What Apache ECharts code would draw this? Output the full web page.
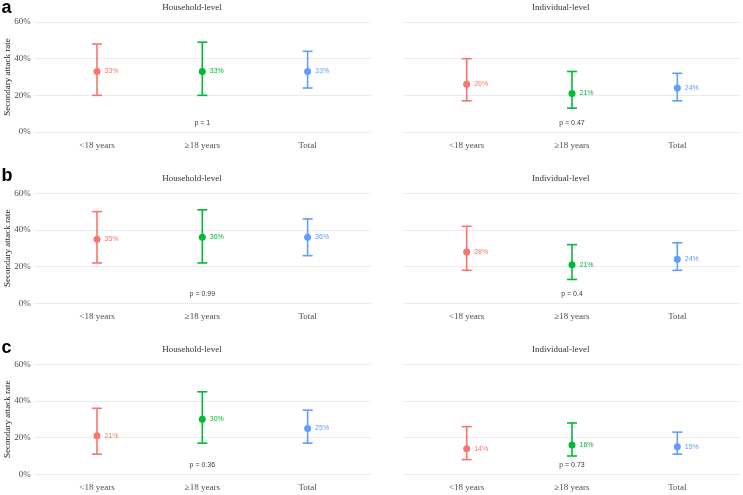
<!DOCTYPE html>
<html>
<head>
<meta charset="utf-8">
<script src="https://cdn.jsdelivr.net/npm/echarts@6/dist/echarts.min.js"></script>
<style>
html,body{margin:0;padding:0;background:#fff;}
#chart{width:743px;height:495px;}
</style>
</head>
<body>
<div id="chart"></div>
<script>
// ---- data ----
const categories = ['<18 years', '\u226518 years', 'Total'];
const panelTitles = ['Household-level', 'Individual-level'];
const rowLabels = ['a', 'b', 'c'];
const yTickValues = [0, 20, 40, 60];
const yAxisTitle = 'Secondary attack rate';
const groupColors = ['#F8766D', '#00BA38', '#619CFF'];

// row a
const aHouseRate = [33, 33, 33];
const aHouseLow  = [20, 20, 24];
const aHouseHigh = [48, 49, 44];
const aIndRate   = [26, 21, 24];
const aIndLow    = [17, 13, 17];
const aIndHigh   = [40, 33, 32];
// row b
const bHouseRate = [35, 36, 36];
const bHouseLow  = [22, 22, 26];
const bHouseHigh = [50, 51, 46];
const bIndRate   = [28, 21, 24];
const bIndLow    = [18, 13, 18];
const bIndHigh   = [42, 32, 33];
// row c
const cHouseRate = [21, 30, 25];
const cHouseLow  = [11, 17, 17];
const cHouseHigh = [36, 45, 35];
const cIndRate   = [14, 16, 15];
const cIndLow    = [8, 10, 11];
const cIndHigh   = [26, 28, 23];

const pValues = ['1', '0.47', '0.99', '0.4', '0.36', '0.73'];
const pLabelY = 5;

const panels = [
  [aHouseRate, aHouseLow, aHouseHigh],
  [aIndRate, aIndLow, aIndHigh],
  [bHouseRate, bHouseLow, bHouseHigh],
  [bIndRate, bIndLow, bIndHigh],
  [cHouseRate, cHouseLow, cHouseHigh],
  [cIndRate, cIndLow, cIndHigh]
];

// ---- layout ----
const gridLefts = [33.8, 403.5];
const gridWidth = 337;
const gridTops = [22, 193.3, 364.3];
const gridHeight = 110;
const rowLabelBaselines = [17, 185, 357];

const serif = '"Liberation Serif", "Times New Roman", serif';
const sans = '"Liberation Sans", Arial, sans-serif';

const grids = [], xAxes = [], yAxes = [], series = [], graphics = [];

panels.forEach((p, i) => {
  const row = Math.floor(i / 2), col = i % 2;
  grids.push({left: gridLefts[col], top: gridTops[row], width: gridWidth, height: gridHeight,
              containLabel: false, outerBoundsMode: 'none'});
  xAxes.push({
    gridIndex: i, type: 'value', min: 0.4, max: 3.6,
    axisLine: {show: false}, axisTick: {show: false}, splitLine: {show: false},
    axisLabel: {
      customValues: [1, 2, 3],
      formatter: v => categories[Math.round(v) - 1] || '',
      fontFamily: serif, fontSize: 9, color: '#4d4d4d', margin: 9
    }
  });
  yAxes.push({
    gridIndex: i, type: 'value', min: 0, max: 60, interval: 20,
    axisLine: {show: false}, axisTick: {show: false},
    splitLine: {show: true, lineStyle: {color: '#ebebeb', width: 1}},
    axisLabel: {show: col === 0, formatter: '{value}%', fontFamily: serif, fontSize: 9, color: '#4d4d4d', margin: 3},
    name: col === 0 ? yAxisTitle : '',
    nameLocation: 'middle', nameRotate: 90, nameGap: 22, nameMoveOverlap: false,
    nameTextStyle: {fontFamily: serif, fontSize: 9, color: '#1a1a1a'}
  });
  const [rate, low, high] = p;
  // error bars
  series.push({
    type: 'custom', xAxisIndex: i, yAxisIndex: i,
    data: categories.map((c, k) => [k + 1, low[k], high[k]]),
    renderItem: (params, api) => {
      const x = api.value(0);
      const lo = api.coord([x, api.value(1)]);
      const hi = api.coord([x, api.value(2)]);
      const half = 5;
      const color = groupColors[params.dataIndex];
      const st = {stroke: color, lineWidth: 1.6};
      return {type: 'group', children: [
        {type: 'line', shape: {x1: lo[0], y1: lo[1], x2: hi[0], y2: hi[1]}, style: st},
        {type: 'line', shape: {x1: lo[0] - half, y1: lo[1], x2: lo[0] + half, y2: lo[1]}, style: st},
        {type: 'line', shape: {x1: hi[0] - half, y1: hi[1], x2: hi[0] + half, y2: hi[1]}, style: st}
      ]};
    },
    z: 2, silent: true
  });
  // points with labels
  series.push({
    type: 'scatter', xAxisIndex: i, yAxisIndex: i, symbolSize: 7,
    data: categories.map((c, k) => ({
      value: [k + 1, rate[k]],
      itemStyle: {color: groupColors[k], opacity: 1},
      label: {show: true, position: 'right', distance: 4, formatter: rate[k] + '%',
              color: groupColors[k], fontSize: 7, fontFamily: sans}
    })),
    z: 3, silent: true
  });
  // p value
  series.push({
    type: 'scatter', xAxisIndex: i, yAxisIndex: i, symbolSize: 0,
    data: [[2, pLabelY]],
    label: {show: true, position: 'inside', formatter: 'p = ' + pValues[i],
            color: '#000', fontSize: 7, fontFamily: sans},
    z: 4, silent: true
  });
  // panel title
  graphics.push({
    type: 'text', left: gridLefts[col] + gridWidth / 2 - 40, top: gridTops[row] - 19,
    style: {text: panelTitles[col], font: '9px ' + serif, fill: '#333', width: 80, align: 'center'}
  });
});

rowLabels.forEach((lab, r) => {
  graphics.push({
    type: 'text', x: 1.5, y: rowLabelBaselines[r],
    style: {text: lab, font: 'bold 18px ' + sans, fill: '#000', verticalAlign: 'bottom', textVerticalAlign: 'bottom'}
  });
});

const chart = echarts.init(document.getElementById('chart'), null, {renderer: 'canvas'});
chart.setOption({
  animation: false,
  backgroundColor: '#fff',
  grid: grids, xAxis: xAxes, yAxis: yAxes, series: series, graphic: graphics
});
</script>
</body>
</html>
